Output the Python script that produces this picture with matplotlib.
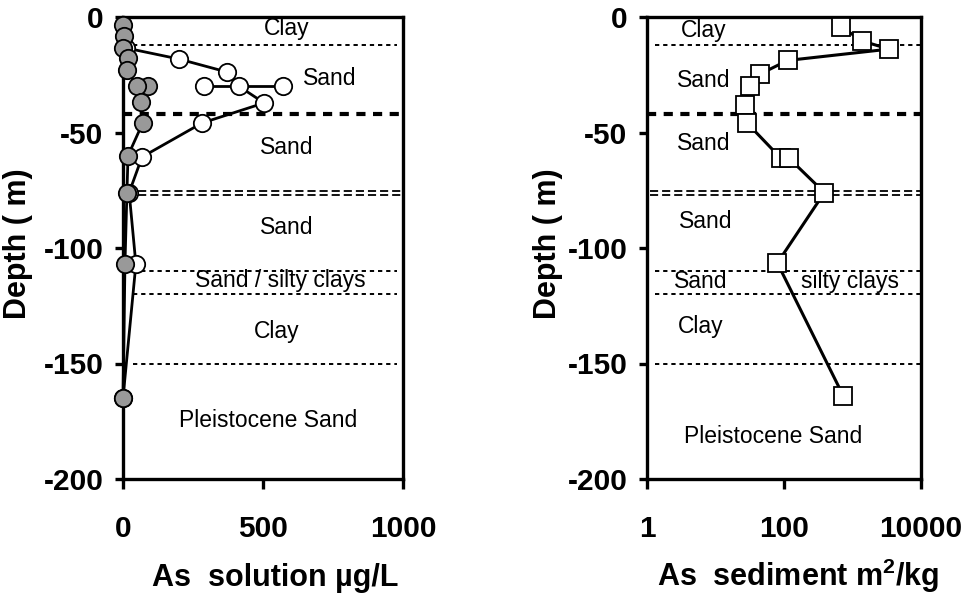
import matplotlib
matplotlib.use("Agg")
import matplotlib.pyplot as plt

plt.rcParams['font.family'] = ['Liberation Sans', 'DejaVu Sans']
plt.rcParams['mathtext.fontset'] = 'custom'
plt.rcParams['mathtext.rm'] = 'Liberation Sans:bold'
plt.rcParams['mathtext.bf'] = 'Liberation Sans:bold'

# ---- dissolved arsenic profiles (ug/L) ----
gray_depth = [-3.5, -8.2, -13.4, -17.8, -23, -30, -37, -46, -60, -76, -107, -165]
gray_as = [0, 3, 0, 18, 14, 50, 64, 70, 18, 14, 7, 0]
gray_rep_depth = [-30]
gray_rep_as = [89]

white_depth = [-13.4, -18.2, -23.8, -30, -37.2, -45.9, -60.6, -76, -107, -165]
white_as = [10, 200, 371, 414, 504, 282, 68, 22, 46, 0]
white_rep_depth = [-30, -30]
white_rep_as = [289, 571]

# ---- sediment arsenic profile (log scale) ----
sed_depth = [-4.3, -10.4, -13.9, -18.8, -24.8, -30, -38.3, -45.7, -61, -61, -76, -106.5, -164]
sed_as = [686, 1390, 3420, 113, 44, 31.6, 26.7, 28.5, 89, 117, 389, 80, 733]

# ---- lithology ----
thin_bounds = [-12, -110, -120, -150]
thick_bound = -42
double_bounds = [-75.5, -77]

left_layers = ["Clay", "Sand", "Sand", "Sand", "Sand / silty clays", "Clay", "Pleistocene Sand"]
left_layer_x = [586, 739, 586, 586, 561, 550, 518]
left_layer_y = [-4.8, -26.8, -56.7, -91, -114, -136, -174.5]

right_layers = ["Clay", "Sand", "Sand", "Sand", "Sand", "silty clays", "Clay", "Pleistocene Sand"]
right_layer_x = [6.7, 6.7, 6.7, 7.2, 6.1, 930, 6.1, 70]
right_layer_y = [-5.7, -27.4, -54.8, -88.7, -114.3, -114.3, -134, -181.7]

W, H = 971, 596
fig = plt.figure(figsize=(W / 100, H / 100), dpi=100)
ax1 = fig.add_axes([123 / W, (H - 479) / H, 280 / W, 462 / H])
ax2 = fig.add_axes([647 / W, (H - 479) / H, 274 / W, 462 / H])

tick_font = dict(fontsize=21.5, fontweight='bold')
label_font = dict(fontsize=22, fontweight='bold')


def style_axes(ax, ylabel_x):
    for s in ax.spines.values():
        s.set_linewidth(2.4)
    ax.tick_params(axis='both', which='major', width=2.4, direction='out')
    ax.tick_params(axis='x', length=7, pad=19)
    ax.tick_params(axis='y', length=6, pad=8)
    ax.tick_params(which='minor', length=0)
    ax.set_ylim(-200, 0)
    ax.set_yticks([0, -50, -100, -150, -200])
    ax.set_yticklabels(['0', '-50', '-100', '-150', '-200'], **tick_font)
    ax.set_ylabel('Depth ( m)', **label_font)
    ax.yaxis.set_label_coords(ylabel_x, 0.51)


def draw_bounds(ax, x0, x1):
    for d in thin_bounds:
        ax.axhline(d, xmin=x0, xmax=x1, color='black', lw=1.4, ls=(0, (2.2, 2.0)), zorder=1)
    ax.axhline(thick_bound, xmin=0.0, xmax=1.0, color='black', lw=3.0, ls=(0, (2.2, 1.8)), zorder=1)
    for d in double_bounds:
        ax.axhline(d, xmin=0.01, xmax=1.0, color='black', lw=1.3, ls=(0, (4.5, 2.2)), zorder=1)


# ---- left panel ----
ax1.set_xlim(0, 1000)
ax1.set_xticks([0, 500, 1000])
ax1.set_xticklabels(['0', '500', '1000'], **tick_font)
style_axes(ax1, -0.321)
draw_bounds(ax1, 0.035, 0.98)

ax1.plot(white_rep_as, white_rep_depth, color='black', lw=2.0, marker='o', ms=12.5,
         mfc='white', mec='black', mew=1.3, zorder=3, clip_on=False)
ax1.plot(white_as, white_depth, color='black', lw=2.0, marker='o', ms=12.5,
         mfc='white', mec='black', mew=1.3, zorder=3, clip_on=False)
ax1.plot(gray_rep_as, gray_rep_depth, ls='none', marker='o', ms=12.5,
         mfc='#999999', mec='black', mew=1.3, zorder=4, clip_on=False)
ax1.plot(gray_as, gray_depth, color='black', lw=2.0, marker='o', ms=12.5,
         mfc='#999999', mec='black', mew=1.3, zorder=4, clip_on=False)

for t, x, y in zip(left_layers, left_layer_x, left_layer_y):
    ax1.text(x, y, t, fontsize=16.5, ha='center', va='center', zorder=2)

ax1.set_xlabel('As  solution \u00b5g/L', **label_font)
ax1.xaxis.set_label_coords(0.543, -0.182)

# ---- right panel ----
ax2.set_xscale('log')
ax2.set_xlim(1, 10000)
ax2.set_xticks([1, 100, 10000])
ax2.set_xticklabels(['1', '100', '10000'], **tick_font)
style_axes(ax2, -0.307)
draw_bounds(ax2, 0.03, 1.0)

ax2.plot(sed_as, sed_depth, color='black', lw=2.2, marker='s', ms=13,
         mfc='white', mec='black', mew=1.3, zorder=3, clip_on=False)

for t, x, y in zip(right_layers, right_layer_x, right_layer_y):
    ax2.text(x, y, t, fontsize=16.5, ha='center', va='center', zorder=2)

ax2.set_xlabel(r'As  sediment m$^{\mathbf{2}}$/kg', **label_font)
ax2.xaxis.set_label_coords(0.551, -0.168)

fig.savefig('out.png', dpi=100)
